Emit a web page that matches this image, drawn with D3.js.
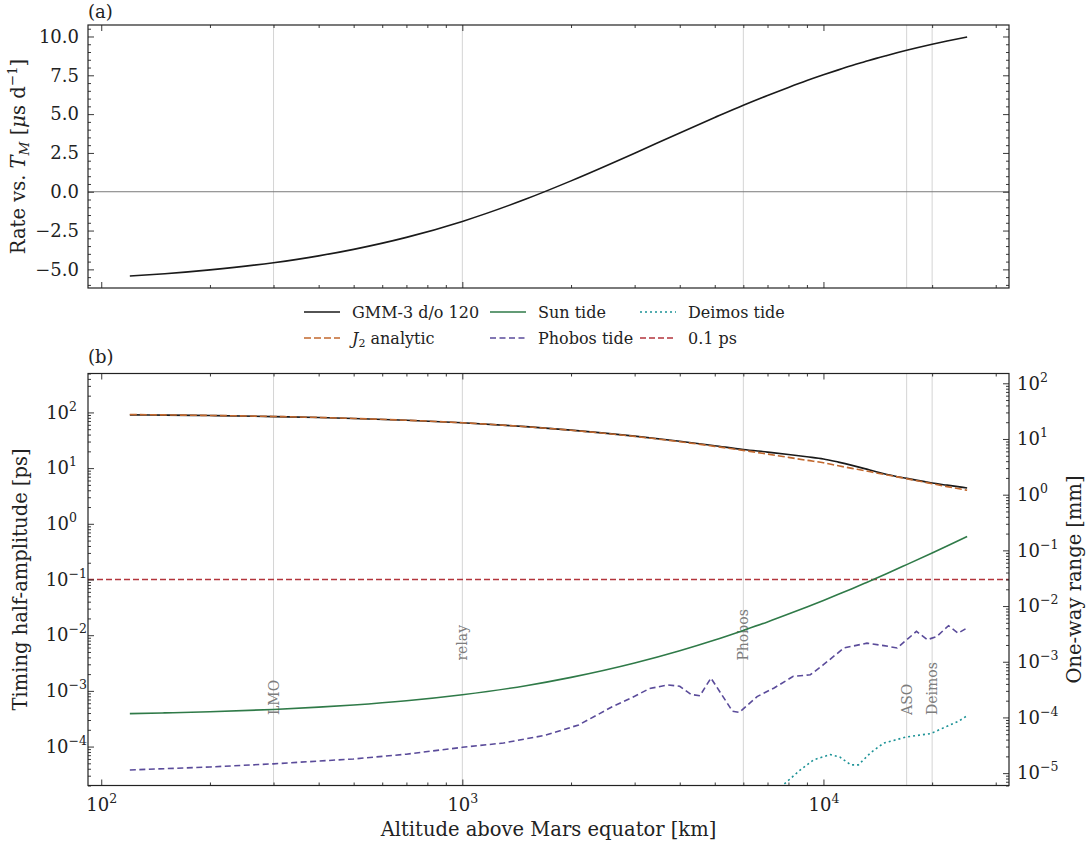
<!DOCTYPE html>
<html><head><meta charset="utf-8">
<script src="https://cdn.jsdelivr.net/npm/d3@7"></script>
<style>body{margin:0;background:#fff}svg{font-family:"DejaVu Serif",serif;display:block}</style>
</head><body><svg id="c" width="1091" height="844"></svg>
<script>
// ---------------- data ----------------
const altitudes = [120,150,200,300,400,500,700,1000,1500,2000,3000,4000,5000,6000,7000,8000,9000,10000,11000,12000,13000,14000,15000,17000,20000,22000,25000];
const rateVsTM = [-5.43,-5.28,-5.03,-4.57,-4.13,-3.71,-2.94,-1.91,-0.47,0.70,2.48,3.79,4.78,5.57,6.20,6.72,7.16,7.53,7.85,8.13,8.37,8.59,8.78,9.11,9.50,9.71,9.97];
const gmm3 = [90.5,89.5,87.8,84.2,80.9,77.7,72.2,65.2,55.6,48.2,37.5,30.3,25.2,21.6,19.4,17.6,16.0,14.6,12.8,11.2,9.8,8.6,7.7,6.55,5.4,4.95,4.4];
const j2Analytic = [91.5,90.2,88.3,84.6,81.2,78.0,72.4,65.2,55.4,47.9,37.1,29.8,24.6,20.8,17.9,15.6,13.8,12.5,11.0,9.9,9.0,8.2,7.55,6.45,5.25,4.65,4.0];
const sunTide = [3.9e-4,4.02e-4,4.22e-4,4.64e-4,5.10e-4,5.59e-4,6.65e-4,8.53e-4,1.24e-3,1.75e-3,3.17e-3,5.27e-3,8.2e-3,1.22e-2,1.73e-2,2.39e-2,3.21e-2,4.21e-2,5.42e-2,6.85e-2,8.54e-2,0.105,0.128,0.185,0.30,0.40,0.59];
const phobosAlt = [120,200,300,500,700,1000,1300,1700,2100,2400,2600,3000,3300,3700,4000,4300,4550,4880,5600,5850,6550,7300,8250,9200,10000,11400,13200,14700,16000,18100,19400,20600,22200,23600,25000];
const phobosTide = [3.8e-5,4.3e-5,4.9e-5,6.0e-5,7.3e-5,9.7e-5,1.16e-4,1.6e-4,2.45e-4,3.9e-4,5.2e-4,8.0e-4,1.1e-3,1.28e-3,1.21e-3,8.6e-4,8.2e-4,1.7e-3,4.3e-4,4.1e-4,7.9e-4,1.13e-3,1.82e-3,1.95e-3,2.95e-3,5.9e-3,7.2e-3,6.5e-3,5.9e-3,1.17e-2,8.3e-3,9.5e-3,1.48e-2,1.09e-2,1.35e-2];
const deimosAlt = [7000,7700,8650,9400,10450,11100,11900,12500,13500,14700,17000,19800,22000,23650,25000];
const deimosTide = [1.0e-5,2.0e-5,3.85e-5,5.8e-5,7.2e-5,6.5e-5,4.7e-5,4.7e-5,7.7e-5,1.16e-4,1.49e-4,1.71e-4,2.31e-4,2.84e-4,3.59e-4];
const thresholdPs = 0.1;
const markerAlt = [300,1000,6000,17000,20000];
const markerNames = ["LMO","relay","Phobos","ASO","Deimos"];
const markerLabelY = [3.7e-4,3.5e-3,3.5e-3,3.7e-4,3.7e-4];
const topTickValues = [-5,-2.5,0,2.5,5,7.5,10];
const topTickLabels = ["\u22125.0","\u22122.5","0.0","2.5","5.0","7.5","10.0"];
const xTickValues = [100,1000,10000];
const psTickValues = [1e-4,1e-3,1e-2,1e-1,1,10,100];
const mmTickValues = [1e-5,1e-4,1e-3,1e-2,1e-1,1,10,100];
const PS_TO_MM = 0.299792458;
const legendNames = ["GMM-3 d/o 120","J2 analytic","Sun tide","Phobos tide","Deimos tide","0.1 ps"];

// ---------------- layout ----------------
const svg = d3.select("#c");
const L=88,R=1009,T1=25,B1=288,T2=373.5,B2=785.5;
const INK="#222";
const FT=18, FL=19.5, FG=16, FS=12.5;
const x = d3.scaleLog().domain([91.9,32650]).range([L,R]);
const yTop = d3.scaleLinear().domain([-6.2,10.74]).range([B1,T1]);
const yPs = d3.scaleLog().domain([2e-5,500]).range([B2,T2]);
const yMm = d3.scaleLog().domain([2e-5*PS_TO_MM,500*PS_TO_MM]).range([B2,T2]);

const C = {gmm:"#1a1a1a", j2:"#c2682e", sun:"#2f7a48", phobos:"#5a4b9a", deimos:"#1b9296", thr:"#b3353c"};

const defs = svg.append("defs");
defs.append("clipPath").attr("id","clipTop").append("rect").attr("x",L).attr("y",T1).attr("width",R-L).attr("height",B1-T1);
defs.append("clipPath").attr("id","clipBot").append("rect").attr("x",L).attr("y",T2).attr("width",R-L).attr("height",B2-T2);

function logMinors(scale){
  const [a,b]=scale.domain(); const out=[];
  for(let e=Math.floor(Math.log10(a)); e<=Math.ceil(Math.log10(b)); e++){
    for(let m=2;m<10;m++){ const v=m*Math.pow(10,e); if(v>=a&&v<=b) out.push(v); }
  }
  return out;
}
function tickMarks(axisFn, scale, values, size, tx, ty){
  svg.append("g").attr("transform",`translate(${tx},${ty})`).attr("color",INK)
    .call(axisFn(scale).tickValues(values).tickSizeInner(-size).tickSizeOuter(0).tickFormat(""))
    .call(g=>{g.select(".domain").remove(); g.selectAll("line").attr("stroke-width",0.9);});
}
function supLabel(sel, v){
  const e=Math.round(Math.log10(v));
  sel.text(null);
  sel.append("tspan").text("10");
  sel.append("tspan").attr("dy",-8).attr("font-size",FS).text(e<0?"\u2212"+(-e):String(e));
}

// ---------------- panel (a) ----------------
const gA = svg.append("g");
gA.selectAll("line.v").data(markerAlt).join("line").attr("x1",d=>x(d)).attr("x2",d=>x(d)).attr("y1",T1).attr("y2",B1).attr("stroke","#d4d4d4").attr("stroke-width",1);
gA.append("line").attr("x1",L).attr("x2",R).attr("y1",yTop(0)).attr("y2",yTop(0)).attr("stroke","#7a7a7a").attr("stroke-width",1);
gA.append("path").attr("clip-path","url(#clipTop)")
  .datum(altitudes.map((a,i)=>[a,rateVsTM[i]]))
  .attr("fill","none").attr("stroke",C.gmm).attr("stroke-width",1.6)
  .attr("d",d3.line().x(d=>x(d[0])).y(d=>yTop(d[1])).curve(d3.curveMonotoneX));

const topMinor = d3.range(-6,10.75,0.5).filter(v=>!topTickValues.includes(v));
tickMarks(d3.axisLeft, yTop, topTickValues, 6, L, 0);
tickMarks(d3.axisLeft, yTop, topMinor, 3, L, 0);
tickMarks(d3.axisRight, yTop, topTickValues, 6, R, 0);
tickMarks(d3.axisRight, yTop, topMinor, 3, R, 0);
tickMarks(d3.axisBottom, x, xTickValues, 6, 0, B1);
tickMarks(d3.axisBottom, x, logMinors(x), 3, 0, B1);
tickMarks(d3.axisTop, x, xTickValues, 6, 0, T1);
tickMarks(d3.axisTop, x, logMinors(x), 3, 0, T1);
svg.append("g").attr("transform",`translate(${L},0)`)
  .call(d3.axisLeft(yTop).tickValues(topTickValues).tickFormat((d,i)=>topTickLabels[i]).tickSize(0).tickPadding(9))
  .call(g=>{g.select(".domain").remove(); g.selectAll("text").attr("font-family","DejaVu Serif").attr("font-size",FT).attr("fill",INK);});
svg.append("rect").attr("x",L).attr("y",T1).attr("width",R-L).attr("height",B1-T1).attr("fill","none").attr("stroke",INK).attr("stroke-width",1.2);
svg.append("text").attr("x",L).attr("y",18).attr("font-size",FT).attr("fill",INK).text("(a)");
{
  const t = svg.append("text").attr("transform",`translate(25,${(T1+B1)/2}) rotate(-90)`).attr("text-anchor","middle").attr("font-size",FL).attr("fill",INK);
  t.append("tspan").text("Rate vs. ");
  t.append("tspan").attr("font-style","italic").text("T");
  t.append("tspan").attr("font-style","italic").attr("font-size",13.5).attr("dy",4).text("M");
  t.append("tspan").attr("dy",-4).text(" [");
  t.append("tspan").attr("font-style","italic").text("\u03bc");
  t.append("tspan").text("s d");
  t.append("tspan").attr("font-size",13.5).attr("dy",-8).text("\u22121");
  t.append("tspan").attr("dy",8).text("]");
}

// ---------------- panel (b) ----------------
const gB = svg.append("g");
gB.selectAll("line.v").data(markerAlt).join("line").attr("x1",d=>x(d)).attr("x2",d=>x(d)).attr("y1",T2).attr("y2",B2).attr("stroke","#d4d4d4").attr("stroke-width",1);
gB.selectAll("text.m").data(markerAlt).join("text")
  .attr("transform",(d,i)=>`translate(${x(d)},${yPs(markerLabelY[i])}) rotate(-90)`)
  .attr("dominant-baseline","central").attr("text-anchor","start")
  .attr("font-size",14).attr("fill","#7d7d7d").text((d,i)=>markerNames[i]);

const lineB = d3.line().x(d=>x(d[0])).y(d=>yPs(d[1]));
const clipB = gB.append("g").attr("clip-path","url(#clipBot)");
clipB.append("line").attr("x1",L).attr("x2",R).attr("y1",yPs(thresholdPs)).attr("y2",yPs(thresholdPs)).attr("stroke",C.thr).attr("stroke-width",1.5).attr("stroke-dasharray","6,3");
clipB.append("path").datum(altitudes.map((a,i)=>[a,sunTide[i]])).attr("fill","none").attr("stroke",C.sun).attr("stroke-width",1.6).attr("d",lineB.curve(d3.curveMonotoneX));
clipB.append("path").datum(phobosAlt.map((a,i)=>[a,phobosTide[i]])).attr("fill","none").attr("stroke",C.phobos).attr("stroke-width",1.6).attr("stroke-dasharray","6,3.5").attr("d",lineB.curve(d3.curveLinear));
clipB.append("path").datum(deimosAlt.map((a,i)=>[a,deimosTide[i]])).attr("fill","none").attr("stroke",C.deimos).attr("stroke-width",1.6).attr("stroke-dasharray","2,3").attr("d",lineB.curve(d3.curveLinear));
clipB.append("path").datum(altitudes.map((a,i)=>[a,gmm3[i]])).attr("fill","none").attr("stroke",C.gmm).attr("stroke-width",1.6).attr("d",lineB.curve(d3.curveMonotoneX));
clipB.append("path").datum(altitudes.map((a,i)=>[a,j2Analytic[i]])).attr("fill","none").attr("stroke",C.j2).attr("stroke-width",1.6).attr("stroke-dasharray","7,3").attr("d",lineB.curve(d3.curveMonotoneX));

tickMarks(d3.axisLeft, yPs, psTickValues, 6, L, 0);
tickMarks(d3.axisLeft, yPs, logMinors(yPs), 3, L, 0);
tickMarks(d3.axisRight, yMm, mmTickValues, 6, R, 0);
tickMarks(d3.axisRight, yMm, logMinors(yMm), 3, R, 0);
tickMarks(d3.axisBottom, x, xTickValues, 6, 0, B2);
tickMarks(d3.axisBottom, x, logMinors(x), 3, 0, B2);
tickMarks(d3.axisTop, x, xTickValues, 6, 0, T2);
tickMarks(d3.axisTop, x, logMinors(x), 3, 0, T2);

svg.append("g").attr("transform",`translate(${L},0)`)
  .call(d3.axisLeft(yPs).tickValues(psTickValues).tickSize(0).tickPadding(8))
  .call(g=>{g.select(".domain").remove();
    g.selectAll("text").attr("font-family","DejaVu Serif").attr("font-size",FT).attr("fill",INK)
     .attr("x",d=>d<1?-1:-11).each(function(d){supLabel(d3.select(this),d);});});
svg.append("g").attr("transform",`translate(${R},0)`)
  .call(d3.axisRight(yMm).tickValues(mmTickValues).tickSize(0).tickPadding(8))
  .call(g=>{g.select(".domain").remove();
    g.selectAll("text").attr("font-family","DejaVu Serif").attr("font-size",FT).attr("fill",INK)
     .each(function(d){supLabel(d3.select(this),d);});});
svg.append("g").attr("transform",`translate(0,${B2})`)
  .call(d3.axisBottom(x).tickValues(xTickValues).tickSize(0).tickPadding(9))
  .call(g=>{g.select(".domain").remove();
    g.selectAll("text").attr("font-family","DejaVu Serif").attr("font-size",FT).attr("fill",INK)
     .attr("dy","0.9em").each(function(d){supLabel(d3.select(this),d);});});

svg.append("rect").attr("x",L).attr("y",T2).attr("width",R-L).attr("height",B2-T2).attr("fill","none").attr("stroke",INK).attr("stroke-width",1.2);
svg.append("text").attr("x",L).attr("y",363).attr("font-size",FT).attr("fill",INK).text("(b)");
svg.append("text").attr("transform",`translate(27,${(T2+B2)/2}) rotate(-90)`).attr("text-anchor","middle").attr("font-size",FL).attr("fill",INK).text("Timing half-amplitude [ps]");
svg.append("text").attr("transform",`translate(1081,${(T2+B2)/2}) rotate(-90)`).attr("text-anchor","middle").attr("font-size",FL).attr("fill",INK).text("One-way range [mm]");
svg.append("text").attr("x",(L+R)/2).attr("y",836).attr("text-anchor","middle").attr("font-size",FL).attr("fill",INK).text("Altitude above Mars equator [km]");

// ---------------- legend ----------------
const legendStyle = [
  {c:C.gmm, d:null}, {c:C.j2, d:"7,3"}, {c:C.sun, d:null},
  {c:C.phobos, d:"6,3.5"}, {c:C.deimos, d:"2,3"}, {c:C.thr, d:"6,3"}];
const colX = [304,490,640], rowY = [312,338];
legendNames.forEach((name,i)=>{
  const col=Math.floor(i/2), row=i%2;
  const lx=colX[col], ly=rowY[row];
  svg.append("line").attr("x1",lx).attr("x2",lx+36).attr("y1",ly).attr("y2",ly)
    .attr("stroke",legendStyle[i].c).attr("stroke-width",1.6).attr("stroke-dasharray",legendStyle[i].d);
  const t = svg.append("text").attr("x",lx+48).attr("y",ly+5.5).attr("font-size",FG).attr("fill",INK);
  if(name.startsWith("J2")){
    t.append("tspan").attr("font-style","italic").text("J");
    t.append("tspan").attr("font-size",11).attr("dy",3).text("2");
    t.append("tspan").attr("dy",-3).text(name.slice(2));
  } else t.text(name);
});
</script></body></html>
